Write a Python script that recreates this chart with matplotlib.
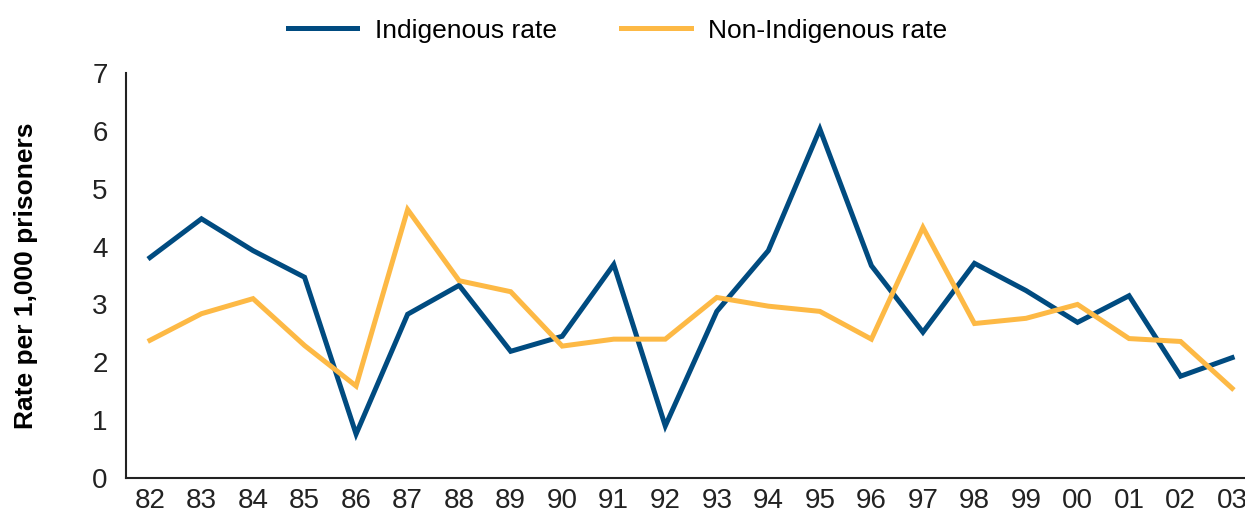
import matplotlib.pyplot as plt
import numpy as np

plt.rcParams['font.family'] = ['Liberation Sans', 'DejaVu Sans']

years = ['82', '83', '84', '85', '86', '87', '88', '89', '90', '91', '92',
         '93', '94', '95', '96', '97', '98', '99', '00', '01', '02', '03']
indigenous = [3.81, 4.48, 3.93, 3.47, 0.76, 2.83, 3.33, 2.19, 2.45, 3.69, 0.90,
              2.88, 3.93, 6.03, 3.67, 2.52, 3.71, 3.24, 2.69, 3.15, 1.76, 2.08]
non_indigenous = [2.38, 2.84, 3.10, 2.29, 1.59, 4.64, 3.41, 3.22, 2.28, 2.40, 2.40,
                  3.12, 2.97, 2.88, 2.40, 4.33, 2.67, 2.76, 3.00, 2.41, 2.36, 1.55]

x = np.arange(len(years))

fig = plt.figure(figsize=(12.45, 5.14), dpi=100)
ax = fig.add_axes([0.101, 0.07, 0.899, 0.788])

ax.plot(x, indigenous, color='#004B80', lw=3.6, label='Indigenous rate', solid_joinstyle='miter')
ax.plot(x, non_indigenous, color='#FDB945', lw=3.6, label='Non-Indigenous rate', solid_joinstyle='miter')

ax.set_xlim(-0.47, 21.25)
ax.set_ylim(0, 7)
ax.set_xticks(x)
ax.set_xticklabels(years)
ax.set_yticks(range(8))
ax.tick_params(length=0, labelsize=20, colors='#222222')
ax.tick_params(axis='y', pad=13)
ax.tick_params(axis='x', pad=7)

for s in ['top', 'right']:
    ax.spines[s].set_visible(False)
for s in ['left', 'bottom']:
    ax.spines[s].set_color('#222222')
    ax.spines[s].set_linewidth(1.5)

ax.set_ylabel('Rate per 1,000 prisoners', fontsize=19, fontweight='bold', labelpad=39)

fig.legend(loc='upper center', bbox_to_anchor=(0.496, 1.01), ncol=2, frameon=False,
           fontsize=19, handlelength=2.65, handletextpad=0.65, columnspacing=2.45)

fig.savefig('out.png', dpi=100)
